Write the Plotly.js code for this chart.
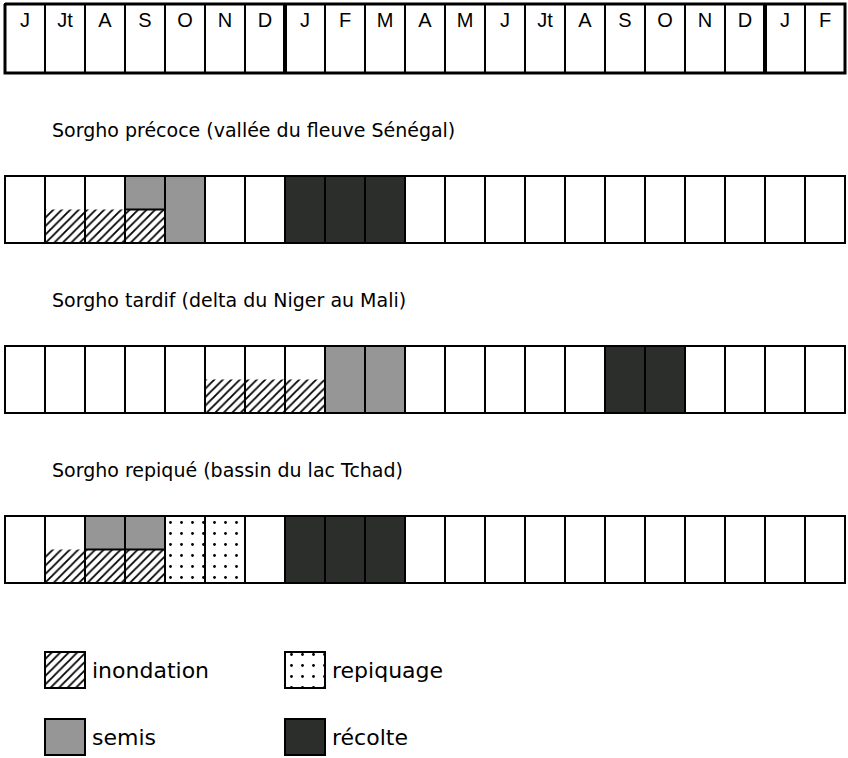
<!DOCTYPE html>
<html>
<head>
<meta charset="utf-8">
<script src="https://cdn.plot.ly/plotly-3.0.1.min.js"></script>
<style>html,body{margin:0;padding:0;background:#fff}#chart{width:848px;height:758px}</style>
</head>
<body>
<div id="chart"></div>
<script>
// ---- Data ----
const months = ['J','Jt','A','S','O','N','D','J','F','M','A','M','J','Jt','A','S','O','N','D','J','F'];
const cropTitles = [
  'Sorgho précoce (vallée du fleuve Sénégal)',
  'Sorgho tardif (delta du Niger au Mali)',
  'Sorgho repiqué (bassin du lac Tchad)'
];
// month indices (0 = first J) per crop
const inondation = [[1,2,3],[5,6,7],[1,2,3]];   // lower half of cell
const semisUpper = [[3],[],[2,3]];              // upper half of cell
const semisFull  = [[4],[8,9],[]];
const repiquage  = [[],[],[4,5]];
const recolte    = [[7,8,9],[15,16],[7,8,9]];
const legendNames = ['inondation','semis','repiquage','récolte'];

// ---- Layout constants ----
const W = 848, H = 758;
const headerTop = 4, headerBottom = 73;
const rowTops = [176, 346, 516];
const rowH = 67;
const titleYs = [130, 300, 470];
const colors = {semis:'#969696', recolte:'#2b2e2b'};
const hatch = {shape:'/', fgcolor:'#000', bgcolor:'#fff', size:6, solidity:0.3};
const dots = {shape:'.', fgcolor:'#000', bgcolor:'#fff', size:11, solidity:0.05};
const FONT = 'Liberation Sans, Arial, sans-serif';
const TFONT = 'DejaVu Sans, sans-serif';

const traces = [];
const cx = a => a.map(i => i + 0.5);
function bars(xs, base, h, marker){
  if (!xs.length) return;
  traces.push({type:'bar', x:cx(xs), y:xs.map(()=>h), base:xs.map(()=>base), width:1,
    marker:marker, showlegend:false, hoverinfo:'skip'});
}

// phase fills
rowTops.forEach((top, r) => {
  const half = rowH/2;
  bars(inondation[r], top+half, half, {color:'#fff', pattern:hatch, line:{width:0}});
  bars(semisUpper[r], top, half, {color:colors.semis, line:{width:2, color:'#000'}});
  bars(semisFull[r], top, rowH, {color:colors.semis, line:{width:0}});
  bars(repiquage[r], top, rowH, {color:'#fff', pattern:dots, line:{width:0}});
  bars(recolte[r], top, rowH, {color:colors.recolte, line:{width:0}});
});
// cell outlines for each crop row
const allIdx = months.map((_, i) => i);
rowTops.forEach(top => bars(allIdx, top, rowH, {color:'rgba(0,0,0,0)', line:{width:2, color:'#000'}}));
// header cells
bars(allIdx, headerTop, headerBottom-headerTop, {color:'rgba(0,0,0,0)', line:{width:2, color:'#000'}});
// header labels
traces.push({type:'scatter', mode:'text', x:cx(allIdx), y:allIdx.map(()=>22), text:months,
  textfont:{family:FONT, size:20, color:'#000'}, showlegend:false, hoverinfo:'skip'});
// header outer border
traces.push({type:'scatter', mode:'lines', x:[0,21,21,0,0],
  y:[headerTop,headerTop,headerBottom,headerBottom,headerTop],
  line:{color:'#000', width:3}, showlegend:false, hoverinfo:'skip'});
// year separators (D -> J)
allIdx.filter(i => i > 0 && months[i-1] === 'D' && months[i] === 'J').forEach(i => {
  traces.push({type:'scatter', mode:'lines', x:[i,i], y:[headerTop,headerBottom],
    line:{color:'#000', width:4}, showlegend:false, hoverinfo:'skip'});
});

// legend swatches (aligned to cells 1 and 7)
const legCells = [1, 1, 7, 7];
const legTops = [652, 719, 652, 719];
const legMarkers = [
  {color:'#fff', pattern:hatch, line:{width:2, color:'#000'}},
  {color:colors.semis, line:{width:2, color:'#000'}},
  {color:'#fff', pattern:dots, line:{width:2, color:'#000'}},
  {color:colors.recolte, line:{width:2, color:'#000'}}
];
legendNames.forEach((n, k) => bars([legCells[k]], legTops[k], 36, legMarkers[k]));

const annotations = [];
cropTitles.forEach((t, r) => annotations.push({text:t, xref:'paper', yref:'y', x:50/W, y:titleYs[r],
  xanchor:'left', yanchor:'middle', showarrow:false, font:{family:TFONT, size:19, color:'#000'}}));
legendNames.forEach((n, k) => annotations.push({text:n, xref:'x', yref:'y', x:legCells[k]+1.12, y:legTops[k]+18,
  xanchor:'left', yanchor:'middle', showarrow:false, font:{family:TFONT, size:22, color:'#000'}}));

const layout = {
  width:W, height:H, margin:{l:0,r:0,t:0,b:0}, paper_bgcolor:'#fff', plot_bgcolor:'#fff',
  barmode:'overlay', showlegend:false, hovermode:false,
  xaxis:{range:[-5/40, 21+3/40], visible:false, fixedrange:true},
  yaxis:{range:[H, 0], visible:false, fixedrange:true},
  annotations:annotations
};
Plotly.newPlot('chart', traces, layout, {staticPlot:true, displayModeBar:false});
</script>
</body>
</html>
